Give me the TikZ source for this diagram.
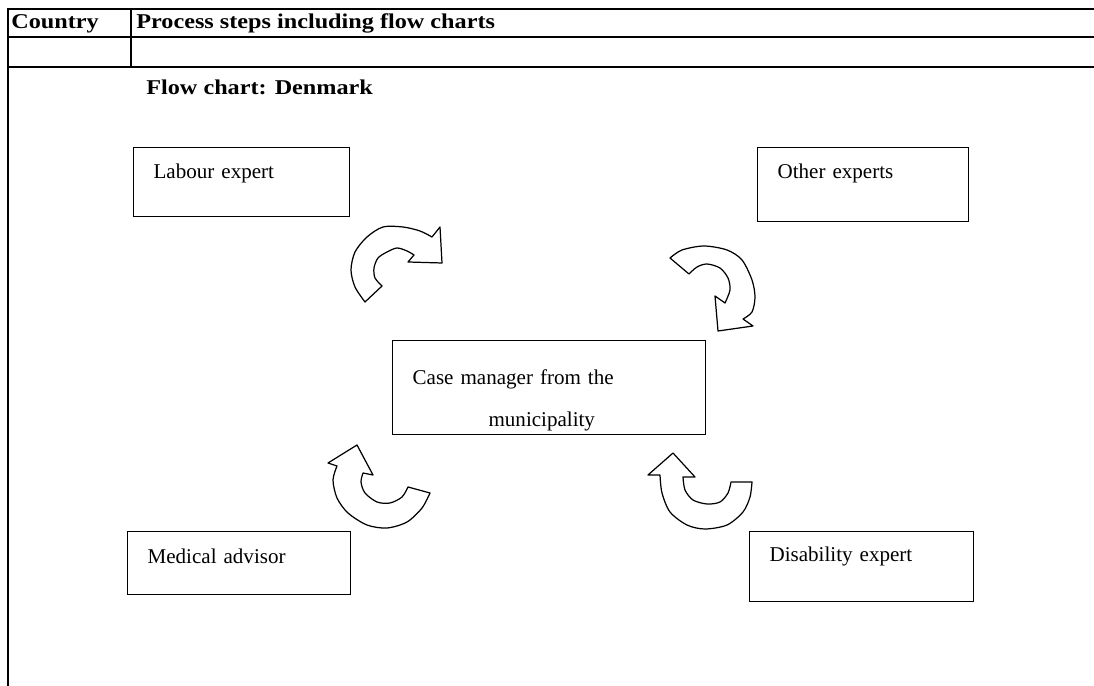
\documentclass[tikz,border=0pt]{standalone}
\usepackage{fontspec}
\setmainfont{Liberation Serif}[BoldFeatures={FakeStretch=1.15}]
\begin{document}
\begin{tikzpicture}[x=0.57pt,y=-0.57pt,
	box/.style={draw=black, line width=0.7pt, anchor=north west, align=left, inner xsep=11.4pt, inner ysep=0pt, font=\fontsize{12}{14}\selectfont},
	head/.style={anchor=base west, inner sep=0pt, font=\fontsize{12}{14}\selectfont\bfseries},
	rule/.style={black, line width=1.2pt},
	curvearrow/.style={draw=black, line width=0.7pt, fill=white, line join=round}]
	
	\useasboundingbox (0,0) rectangle (1094,686);
	
	%Table
	\draw[rule] (8,686) -- (8,9) -- (1094,9);
	\draw[rule] (8,37) -- (1094,37);
	\draw[rule] (8,67) -- (1094,67);
	\draw[rule] (131,9) -- (131,67);
	
	%Headers
	\node[head] (country) at (11,29) {Country};
	\node[head] (steps) at (136,29) {Process steps including flow charts};
	\node[head] (title) at (146,95) {Flow chart: Denmark};
	
	%Nodes
	\node[box, text width=100.3pt, text height=17.7pt, text depth=21.7pt] (labour) at (133,147) {Labour expert};
	\node[box, text width=97.5pt, text height=17.7pt, text depth=24.5pt] (other) at (757,147) {Other experts};
	\node[box, text width=155.6pt, text height=25.1pt, text depth=28.5pt] (case) at (392,340) {Case manager from the\\[9.9pt]\hspace*{43.3pt}municipality};
	\node[box, text width=104.3pt, text height=18.2pt, text depth=17.7pt] (medical) at (127,531) {Medical advisor};
	\node[box, text width=104.9pt, text height=17.1pt, text depth=22.8pt] (disab) at (749,531) {Disability expert};
	
	%Curved arrows
	\draw[curvearrow] plot[smooth] coordinates {(365,302) (355,287) (351,270) (355,252) (367,237) (383,227) (403,227) (420,231) (432,237)}
		-- (440,227) -- (442,263) -- (408,262) -- (414,255)
		-- plot[smooth] coordinates {(414,255) (407,251) (397,248) (387,252) (378,258) (374,268) (375,278) (382,286)} -- cycle;
	\draw[curvearrow] plot[smooth] coordinates {(670,258) (682,250) (704,246) (727,250) (742,260) (752,280) (755,297) (752,312) (743,319)}
		-- (753,326) -- (718,331) -- (715,296) -- (725,303)
		-- plot[smooth] coordinates {(725,303) (730,290) (728,278) (720,268) (707,264) (697,267) (689,274)} -- cycle;
	\draw[curvearrow] (357,445) -- (328,463) -- (337,466)
		-- plot[smooth] coordinates {(337,466) (333,480) (337,498) (348,513) (367,525) (387,528) (407,522) (422,508) (430,493)}
		-- (408,487)
		-- plot[smooth] coordinates {(408,487) (402,497) (390,503) (377,502) (365,493) (361,482) (363,473)}
		-- (373,475) -- cycle;
	\draw[curvearrow] (673,453) -- (648,475) -- (660,475)
		-- plot[smooth] coordinates {(660,475) (662,493) (670,512) (687,525) (705,529) (727,525) (743,512) (750,497) (752,482)}
		-- (731,482)
		-- plot[smooth] coordinates {(731,482) (728,493) (720,502) (707,504) (693,500) (685,490) (683,477)}
		-- (695,477) -- cycle;
\end{tikzpicture}
\end{document}
